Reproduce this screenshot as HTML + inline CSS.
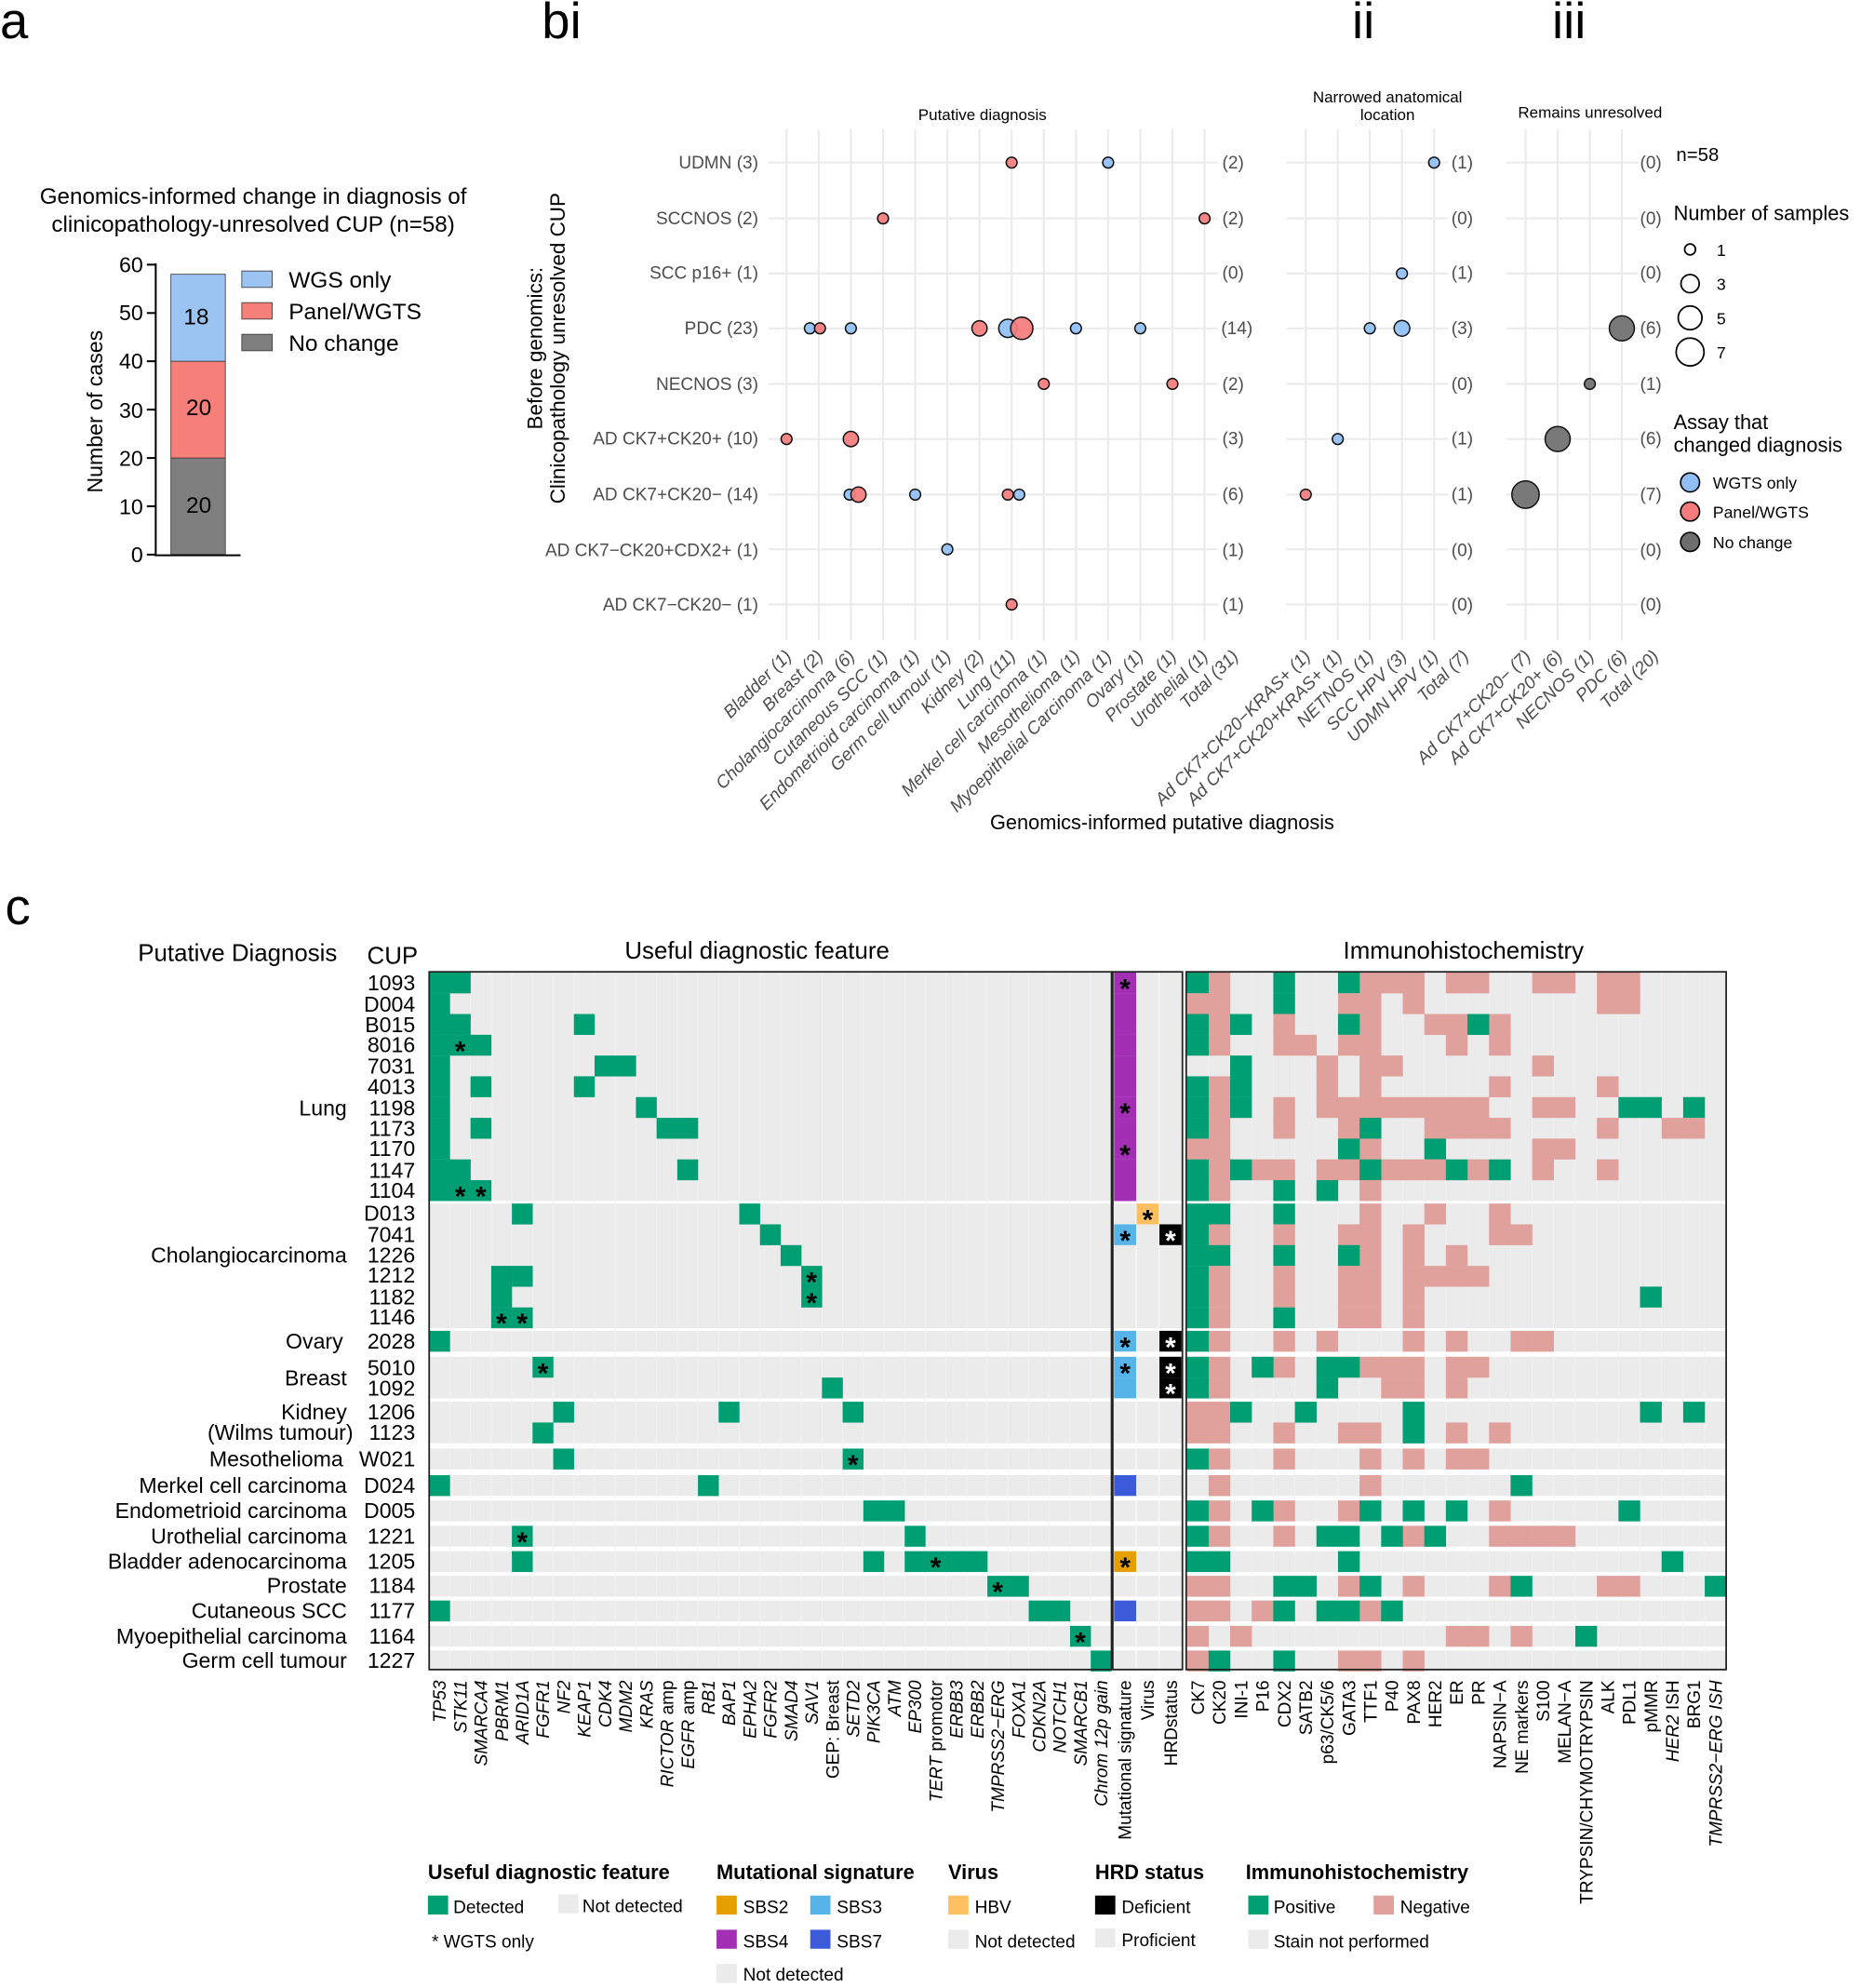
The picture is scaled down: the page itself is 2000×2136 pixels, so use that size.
<!DOCTYPE html>
<html><head><meta charset="utf-8">
<style>
html,body{margin:0;padding:0;background:#fff;}
svg{display:block;font-family:"Liberation Sans",Arial,sans-serif;}
.tk{font-size:14px;fill:#4d4d4d;}
.xl{font-size:14px;fill:#4d4d4d;font-style:italic;}
.cl{font-size:14px;fill:#000;}
.it{font-style:italic;}
</style></head><body>
<svg id="s" width="2000" height="2136" viewBox="0 0 1470 1570" preserveAspectRatio="none" xmlns="http://www.w3.org/2000/svg">
<text x="0" y="30" font-size="40">a</text>
<text x="428" y="30" font-size="40">bi</text>
<text x="1068" y="30" font-size="40">ii</text>
<text x="1226" y="30" font-size="40">iii</text>
<text x="4" y="730" font-size="40">c</text>

<text x="200" y="161" font-size="17.8" text-anchor="middle">Genomics-informed change in diagnosis of</text>
<text x="200" y="183" font-size="17.8" text-anchor="middle">clinicopathology-unresolved CUP (n=58)</text>
<rect x="135" y="361.7" width="43" height="76.3" fill="#7f7f7f" stroke="#333" stroke-width="0.6"/>
<rect x="135" y="285.3" width="43" height="76.4" fill="#f77f7a" stroke="#333" stroke-width="0.6"/>
<rect x="135" y="216.6" width="43" height="68.7" fill="#9cc4f2" stroke="#333" stroke-width="0.6"/>
<text x="157" y="405" font-size="18" text-anchor="middle">20</text>
<text x="157" y="328" font-size="18" text-anchor="middle">20</text>
<text x="155" y="256" font-size="18" text-anchor="middle">18</text>
<line x1="123" y1="208" x2="123" y2="439" stroke="#000" stroke-width="1.5"/>
<line x1="122" y1="438.5" x2="190" y2="438.5" stroke="#000" stroke-width="1.5"/>
<g stroke="#000" stroke-width="1.5">
<line x1="116" y1="438" x2="123" y2="438"/><line x1="116" y1="399.8" x2="123" y2="399.8"/><line x1="116" y1="361.7" x2="123" y2="361.7"/><line x1="116" y1="323.5" x2="123" y2="323.5"/><line x1="116" y1="285.3" x2="123" y2="285.3"/><line x1="116" y1="247.2" x2="123" y2="247.2"/><line x1="116" y1="209" x2="123" y2="209"/>
</g>
<g font-size="17" text-anchor="end">
<text x="113" y="444">0</text><text x="113" y="406">10</text><text x="113" y="368">20</text><text x="113" y="330">30</text><text x="113" y="291">40</text><text x="113" y="253">50</text><text x="113" y="215">60</text>
</g>
<text transform="rotate(-90 81 325)" x="81" y="325" font-size="17" text-anchor="middle">Number of cases</text>
<rect x="191" y="214" width="24" height="13" fill="#9cc4f2" stroke="#333" stroke-width="0.6"/>
<rect x="191" y="239" width="24" height="13" fill="#f77f7a" stroke="#333" stroke-width="0.6"/>
<rect x="191" y="264" width="24" height="13" fill="#7f7f7f" stroke="#333" stroke-width="0.6"/>
<g font-size="18"><text x="228" y="227">WGS only</text><text x="228" y="252">Panel/WGTS</text><text x="228" y="277">No change</text></g>

<g id="bgrid" stroke="#ebebeb" stroke-width="1.6"></g>
<text x="776" y="95" font-size="12.5" text-anchor="middle">Putative diagnosis</text>
<text x="1096" y="81" font-size="12.5" text-anchor="middle">Narrowed anatomical</text>
<text x="1096" y="95" font-size="12.5" text-anchor="middle">location</text>
<text x="1256" y="93" font-size="12.5" text-anchor="middle">Remains unresolved</text>
<text transform="rotate(-90 428 275)" x="428" y="275" font-size="16.5" text-anchor="middle">Before genomics:</text>
<text transform="rotate(-90 446 275)" x="446" y="275" font-size="16.5" text-anchor="middle">Clinicopathology unresolved CUP</text>
<g class="tk" text-anchor="end">
<text x="599" y="133">UDMN (3)</text>
<text x="599" y="177">SCCNOS (2)</text>
<text x="599" y="220">SCC p16+ (1)</text>
<text x="599" y="264">PDC (23)</text>
<text x="599" y="308">NECNOS (3)</text>
<text x="599" y="351">AD CK7+CK20+ (10)</text>
<text x="599" y="395">AD CK7+CK20− (14)</text>
<text x="599" y="439">AD CK7−CK20+CDX2+ (1)</text>
<text x="599" y="482">AD CK7−CK20− (1)</text>
</g>
<g class="tk" text-anchor="middle">
<text x="974" y="133">(2)</text><text x="974" y="177">(2)</text><text x="974" y="220">(0)</text><text x="977" y="264">(14)</text><text x="974" y="308">(2)</text><text x="974" y="351">(3)</text><text x="974" y="395">(6)</text><text x="974" y="439">(1)</text><text x="974" y="482">(1)</text>
<text x="1155" y="133">(1)</text><text x="1155" y="177">(0)</text><text x="1155" y="220">(1)</text><text x="1155" y="264">(3)</text><text x="1155" y="308">(0)</text><text x="1155" y="351">(1)</text><text x="1155" y="395">(1)</text><text x="1155" y="439">(0)</text><text x="1155" y="482">(0)</text>
<text x="1304" y="133">(0)</text><text x="1304" y="177">(0)</text><text x="1304" y="220">(0)</text><text x="1304" y="264">(6)</text><text x="1304" y="308">(1)</text><text x="1304" y="351">(6)</text><text x="1304" y="395">(7)</text><text x="1304" y="439">(0)</text><text x="1304" y="482">(0)</text>
</g>
<g id="bub" stroke="#111" stroke-width="1.1"></g>
<g class="xl" text-anchor="end">
<text transform="rotate(-45 626 519)" x="626" y="519">Bladder (1)</text>
<text transform="rotate(-45 651 519)" x="651" y="519">Breast (2)</text>
<text transform="rotate(-45 676 519)" x="676" y="519">Cholangiocarcinoma (6)</text>
<text transform="rotate(-45 702 519)" x="702" y="519">Cutaneous SCC (1)</text>
<text transform="rotate(-45 727 519)" x="727" y="519">Endometrioid carcinoma (1)</text>
<text transform="rotate(-45 752 519)" x="752" y="519">Germ cell tumour (1)</text>
<text transform="rotate(-45 778 519)" x="778" y="519">Kidney (2)</text>
<text transform="rotate(-45 803 519)" x="803" y="519">Lung (11)</text>
<text transform="rotate(-45 828 519)" x="828" y="519">Merkel cell carcinoma (1)</text>
<text transform="rotate(-45 854 519)" x="854" y="519">Mesothelioma (1)</text>
<text transform="rotate(-45 879 519)" x="879" y="519">Myoepithelial Carcinoma (1)</text>
<text transform="rotate(-45 904 519)" x="904" y="519">Ovary (1)</text>
<text transform="rotate(-45 930 519)" x="930" y="519">Prostate (1)</text>
<text transform="rotate(-45 955 519)" x="955" y="519">Urothelial (1)</text>
<text transform="rotate(-45 979 519)" x="979" y="519">Total (31)</text>
<text transform="rotate(-45 1036 519)" x="1036" y="519">Ad CK7+CK20−KRAS+ (1)</text>
<text transform="rotate(-45 1061 519)" x="1061" y="519">Ad CK7+CK20+KRAS+ (1)</text>
<text transform="rotate(-45 1086 519)" x="1086" y="519">NETNOS (1)</text>
<text transform="rotate(-45 1112 519)" x="1112" y="519">SCC HPV (3)</text>
<text transform="rotate(-45 1137 519)" x="1137" y="519">UDMN HPV (1)</text>
<text transform="rotate(-45 1161 519)" x="1161" y="519">Total (7)</text>
<text transform="rotate(-45 1210 519)" x="1210" y="519">Ad CK7+CK20− (7)</text>
<text transform="rotate(-45 1235 519)" x="1235" y="519">Ad CK7+CK20+ (6)</text>
<text transform="rotate(-45 1260 519)" x="1260" y="519">NECNOS (1)</text>
<text transform="rotate(-45 1286 519)" x="1286" y="519">PDC (6)</text>
<text transform="rotate(-45 1311 519)" x="1311" y="519">Total (20)</text>
</g>
<text x="918" y="655" font-size="16" text-anchor="middle">Genomics-informed putative diagnosis</text>
<text x="1324" y="127" font-size="15">n=58</text>
<text x="1322" y="174" font-size="16">Number of samples</text>
<g fill="#fff" stroke="#000" stroke-width="1.3">
<circle cx="1335" cy="197" r="4.3"/><circle cx="1335" cy="224" r="7.2"/><circle cx="1335" cy="251" r="9.4"/><circle cx="1335" cy="278" r="11"/>
</g>
<g font-size="13"><text x="1356" y="202">1</text><text x="1356" y="229">3</text><text x="1356" y="256">5</text><text x="1356" y="283">7</text></g>
<text x="1322" y="339" font-size="16">Assay that</text>
<text x="1322" y="357" font-size="16">changed diagnosis</text>
<g stroke="#000" stroke-width="1.2">
<circle cx="1335" cy="381" r="7.5" fill="#8fbff5"/><circle cx="1335" cy="404" r="7.5" fill="#f57c7c"/><circle cx="1335" cy="428" r="7.5" fill="#6e6e6e"/>
</g>
<g font-size="13"><text x="1353" y="386">WGTS only</text><text x="1353" y="409">Panel/WGTS</text><text x="1353" y="433">No change</text></g>

<text x="109" y="759" font-size="19">Putative Diagnosis</text>
<text x="290" y="761" font-size="19">CUP</text>
<text x="598" y="757" font-size="19" text-anchor="middle">Useful diagnostic feature</text>
<text x="1156" y="757" font-size="19" text-anchor="middle">Immunohistochemistry</text>
<g id="heat"></g>
<g font-size="17" text-anchor="end" id="cup">
<text x="328" y="782">1093</text><text x="328" y="799">D004</text><text x="328" y="815">B015</text><text x="328" y="831">8016</text><text x="328" y="848">7031</text><text x="328" y="864">4013</text><text x="328" y="881">1198</text><text x="328" y="897">1173</text><text x="328" y="913">1170</text><text x="328" y="930">1147</text><text x="328" y="946">1104</text>
<text x="328" y="964">D013</text><text x="328" y="981">7041</text><text x="328" y="997">1226</text><text x="328" y="1013">1212</text><text x="328" y="1030">1182</text><text x="328" y="1046">1146</text>
<text x="328" y="1065">2028</text><text x="328" y="1086">5010</text><text x="328" y="1102">1092</text><text x="328" y="1121">1206</text><text x="328" y="1137">1123</text><text x="328" y="1158">W021</text><text x="328" y="1179">D024</text><text x="328" y="1199">D005</text><text x="328" y="1219">1221</text><text x="328" y="1239">1205</text><text x="328" y="1258">1184</text><text x="328" y="1278">1177</text><text x="328" y="1298">1164</text><text x="328" y="1317">1227</text>
<text x="274" y="881">Lung</text>
<text x="274" y="997">Cholangiocarcinoma</text>
<text x="271" y="1065">Ovary</text>
<text x="274" y="1094">Breast</text>
<text x="274" y="1121">Kidney</text>
<text x="279" y="1137">(Wilms tumour)</text>
<text x="271" y="1158">Mesothelioma</text>
<text x="274" y="1179">Merkel cell carcinoma</text>
<text x="274" y="1199">Endometrioid carcinoma</text>
<text x="274" y="1219">Urothelial carcinoma</text>
<text x="274" y="1239">Bladder adenocarcinoma</text>
<text x="274" y="1258">Prostate</text>
<text x="274" y="1278">Cutaneous SCC</text>
<text x="274" y="1298">Myoepithelial carcinoma</text>
<text x="274" y="1317">Germ cell tumour</text>
</g>
<g class="cl" text-anchor="end">
<text class="it" transform="rotate(-90 352 1327)" x="352" y="1327">TP53</text>
<text class="it" transform="rotate(-90 368.5 1327)" x="368.5" y="1327">STK11</text>
<text class="it" transform="rotate(-90 384.8 1327)" x="384.8" y="1327">SMARCA4</text>
<text class="it" transform="rotate(-90 401.2 1327)" x="401.2" y="1327">PBRM1</text>
<text class="it" transform="rotate(-90 417.5 1327)" x="417.5" y="1327">ARID1A</text>
<text class="it" transform="rotate(-90 433.8 1327)" x="433.8" y="1327">FGFR1</text>
<text class="it" transform="rotate(-90 450.2 1327)" x="450.2" y="1327">NF2</text>
<text class="it" transform="rotate(-90 466.5 1327)" x="466.5" y="1327">KEAP1</text>
<text class="it" transform="rotate(-90 482.8 1327)" x="482.8" y="1327">CDK4</text>
<text class="it" transform="rotate(-90 499.2 1327)" x="499.2" y="1327">MDM2</text>
<text class="it" transform="rotate(-90 515.5 1327)" x="515.5" y="1327">KRAS</text>
<text transform="rotate(-90 531.8 1327)" x="531.8" y="1327"><tspan class="it">RICTOR</tspan> amp</text>
<text transform="rotate(-90 548.2 1327)" x="548.2" y="1327"><tspan class="it">EGFR</tspan> amp</text>
<text class="it" transform="rotate(-90 564.5 1327)" x="564.5" y="1327">RB1</text>
<text class="it" transform="rotate(-90 580.8 1327)" x="580.8" y="1327">BAP1</text>
<text class="it" transform="rotate(-90 597.2 1327)" x="597.2" y="1327">EPHA2</text>
<text class="it" transform="rotate(-90 613.5 1327)" x="613.5" y="1327">FGFR2</text>
<text class="it" transform="rotate(-90 629.8 1327)" x="629.8" y="1327">SMAD4</text>
<text class="it" transform="rotate(-90 646.1 1327)" x="646.1" y="1327">SAV1</text>
<text transform="rotate(-90 662.5 1327)" x="662.5" y="1327">GEP: Breast</text>
<text class="it" transform="rotate(-90 678.8 1327)" x="678.8" y="1327">SETD2</text>
<text class="it" transform="rotate(-90 695.1 1327)" x="695.1" y="1327">PIK3CA</text>
<text class="it" transform="rotate(-90 711.5 1327)" x="711.5" y="1327">ATM</text>
<text class="it" transform="rotate(-90 727.8 1327)" x="727.8" y="1327">EP300</text>
<text transform="rotate(-90 744.1 1327)" x="744.1" y="1327"><tspan class="it">TERT</tspan> promotor</text>
<text class="it" transform="rotate(-90 760.5 1327)" x="760.5" y="1327">ERBB3</text>
<text class="it" transform="rotate(-90 776.8 1327)" x="776.8" y="1327">ERBB2</text>
<text class="it" transform="rotate(-90 793.1 1327)" x="793.1" y="1327">TMPRSS2−ERG</text>
<text class="it" transform="rotate(-90 809.5 1327)" x="809.5" y="1327">FOXA1</text>
<text class="it" transform="rotate(-90 825.8 1327)" x="825.8" y="1327">CDKN2A</text>
<text class="it" transform="rotate(-90 842.1 1327)" x="842.1" y="1327">NOTCH1</text>
<text class="it" transform="rotate(-90 858.5 1327)" x="858.5" y="1327">SMARCB1</text>
<text class="it" transform="rotate(-90 874.8 1327)" x="874.8" y="1327">Chrom 12p gain</text>
<text transform="rotate(-90 893.5 1327)" x="893.5" y="1327">Mutational signature</text>
<text transform="rotate(-90 911.5 1327)" x="911.5" y="1327">Virus</text>
<text transform="rotate(-90 929.7 1327)" x="929.7" y="1327">HRDstatus</text>
<text transform="rotate(-90 951.1 1327)" x="951.1" y="1327">CK7</text>
<text transform="rotate(-90 968.1 1327)" x="968.1" y="1327">CK20</text>
<text transform="rotate(-90 985.2 1327)" x="985.2" y="1327">INI-1</text>
<text transform="rotate(-90 1002.2 1327)" x="1002.2" y="1327">P16</text>
<text transform="rotate(-90 1019.3 1327)" x="1019.3" y="1327">CDX2</text>
<text transform="rotate(-90 1036.3 1327)" x="1036.3" y="1327">SATB2</text>
<text transform="rotate(-90 1053.3 1327)" x="1053.3" y="1327">p63/CK5/6</text>
<text transform="rotate(-90 1070.4 1327)" x="1070.4" y="1327">GATA3</text>
<text transform="rotate(-90 1087.4 1327)" x="1087.4" y="1327">TTF1</text>
<text transform="rotate(-90 1104.5 1327)" x="1104.5" y="1327">P40</text>
<text transform="rotate(-90 1121.5 1327)" x="1121.5" y="1327">PAX8</text>
<text transform="rotate(-90 1138.5 1327)" x="1138.5" y="1327">HER2</text>
<text transform="rotate(-90 1155.6 1327)" x="1155.6" y="1327">ER</text>
<text transform="rotate(-90 1172.6 1327)" x="1172.6" y="1327">PR</text>
<text transform="rotate(-90 1189.7 1327)" x="1189.7" y="1327">NAPSIN−A</text>
<text transform="rotate(-90 1206.7 1327)" x="1206.7" y="1327">NE markers</text>
<text transform="rotate(-90 1223.7 1327)" x="1223.7" y="1327">S100</text>
<text transform="rotate(-90 1240.8 1327)" x="1240.8" y="1327">MELAN−A</text>
<text transform="rotate(-90 1257.8 1327)" x="1257.8" y="1327">TRYPSIN/CHYMOTRYPSIN</text>
<text transform="rotate(-90 1274.9 1327)" x="1274.9" y="1327">ALK</text>
<text transform="rotate(-90 1291.9 1327)" x="1291.9" y="1327">PDL1</text>
<text transform="rotate(-90 1308.9 1327)" x="1308.9" y="1327">pMMR</text>
<text transform="rotate(-90 1326 1327)" x="1326" y="1327"><tspan class="it">HER2</tspan> ISH</text>
<text transform="rotate(-90 1343 1327)" x="1343" y="1327">BRG1</text>
<text class="it" transform="rotate(-90 1360.1 1327)" x="1360.1" y="1327">TMPRSS2−ERG ISH</text>
</g>
<g font-size="16" font-weight="bold">
<text x="338" y="1484">Useful diagnostic feature</text>
<text x="566" y="1484">Mutational signature</text>
<text x="749" y="1484">Virus</text>
<text x="865" y="1484">HRD status</text>
<text x="984" y="1484">Immunohistochemistry</text>
</g>
<rect x="338" y="1497" width="16" height="15" fill="#009e73"/>
<rect x="441" y="1496" width="16" height="15" fill="#ebebeb"/>
<rect x="566" y="1497" width="16" height="15" fill="#e69f00"/>
<rect x="640" y="1497" width="16" height="15" fill="#56b4e9"/>
<rect x="566" y="1524" width="16" height="15" fill="#a22fb4"/>
<rect x="640" y="1524" width="16" height="15" fill="#3b5bdb"/>
<rect x="566" y="1551" width="16" height="15" fill="#ebebeb"/>
<rect x="749" y="1497" width="16" height="15" fill="#fdbf5f"/>
<rect x="749" y="1524" width="16" height="15" fill="#ebebeb"/>
<rect x="865" y="1497" width="16" height="15" fill="#000"/>
<rect x="865" y="1523" width="16" height="15" fill="#ebebeb"/>
<rect x="986" y="1497" width="16" height="15" fill="#009e73"/>
<rect x="1085" y="1497" width="16" height="15" fill="#e0a09b"/>
<rect x="986" y="1524" width="16" height="15" fill="#ebebeb"/>
<g font-size="14">
<text x="358" y="1511">Detected</text>
<text x="460" y="1510">Not detected</text>
<text x="341" y="1538">* WGTS only</text>
<text x="587" y="1511">SBS2</text><text x="661" y="1511">SBS3</text>
<text x="587" y="1538">SBS4</text><text x="661" y="1538">SBS7</text>
<text x="587" y="1564">Not detected</text>
<text x="770" y="1511">HBV</text><text x="770" y="1538">Not detected</text>
<text x="886" y="1511">Deficient</text><text x="886" y="1537">Proficient</text>
<text x="1006" y="1511">Positive</text><text x="1106" y="1511">Negative</text>
<text x="1006" y="1538">Stain not performed</text>
</g>
</svg>
<script>
(function(){
var NS="http://www.w3.org/2000/svg";
function el(p,t,a){var e=document.createElementNS(NS,t);for(var k in a)e.setAttribute(k,a[k]);p.appendChild(e);return e;}
var g=document.getElementById('bgrid');
var rows=[128.4,172.5,216,259.3,303.2,346.7,390.6,433.8,477.4];
var colsB=[],i;for(i=0;i<14;i++)colsB.push(621.3+25.4*i);
var colsI=[1031.4,1056.7,1082,1107.4,1132.8];
var colsJ=[1205,1230.4,1255.8,1281.1];
function grid(cols,x1,x2){cols.forEach(function(x){el(g,'line',{x1:x,y1:102,x2:x,y2:506});});rows.forEach(function(y){el(g,'line',{x1:x1,y1:y,x2:x2,y2:y});});}
grid(colsB,607,962);grid(colsI,1016,1144);grid(colsJ,1190,1294);
var b=document.getElementById('bub');
var B='#8fbff5',R='#f57c7c',G='#6e6e6e';
var bubs=[
[colsB[7],0,R,4.3],[colsB[10],0,B,4.3],
[colsB[3],1,R,4.3],[colsB[13],1,R,4.3],
[colsB[1]-7,3,B,4.3],[colsB[1]+1,3,R,4.3],[colsB[2],3,B,4.3],[colsB[6],3,R,6],[colsB[7]-3,3,B,7.2],[colsB[7]+8,3,R,8.8],[colsB[9],3,B,4.3],[colsB[11],3,B,4.3],
[colsB[8],4,R,4.3],[colsB[12],4,R,4.3],
[colsB[0],5,R,4.3],[colsB[2],5,R,6],
[colsB[2]-1,6,B,4.3],[colsB[2]+6,6,R,6],[colsB[4],6,B,4.3],[colsB[7]-3,6,R,4.3],[colsB[7]+6,6,B,4.3],
[colsB[5],7,B,4.3],[colsB[7],8,R,4.3],
[colsI[4],0,B,4.3],[colsI[3],2,B,4.3],[colsI[2],3,B,4.3],[colsI[3],3,B,6.2],[colsI[1],5,B,4.3],[colsI[0],6,R,4.3],
[colsJ[3],3,G,9.9],[colsJ[2],4,G,4.3],[colsJ[1],5,G,9.9],[colsJ[0],6,G,10.8]];
bubs.forEach(function(d){el(b,'circle',{cx:d[0],cy:rows[d[1]],r:d[3],fill:d[2],'fill-opacity':0.92});});
var h=document.getElementById('heat');
var starts=[],grp=[[768,11],[950.5,6],[1051,1],[1071.5,2],[1107,2],[1144,1],[1165,1],[1185,1],[1205,1],[1225,1],[1244.5,1],[1264,1],[1284,1],[1303.5,1]];
var RH=16.4;
grp.forEach(function(q){for(var j=0;j<q[1];j++)starts.push(q[0]+j*RH);
 el(h,'rect',{x:339,y:q[0],width:539,height:q[1]*RH,fill:'#ebebeb'});
 el(h,'rect',{x:880,y:q[0],width:53.5,height:q[1]*RH,fill:'#ebebeb'});
 el(h,'rect',{x:937.6,y:q[0],width:426,height:q[1]*RH,fill:'#ebebeb'});
});
for(i=1;i<33;i++)el(h,'line',{x1:339+16.33*i,y1:768,x2:339+16.33*i,y2:1319,stroke:'#f3f3f3','stroke-width':0.6});
for(i=1;i<25;i++)el(h,'line',{x1:937.6+17.04*i,y1:768,x2:937.6+17.04*i,y2:1319,stroke:'#f3f3f3','stroke-width':0.6});
[897.5,915.5].forEach(function(x){el(h,'line',{x1:x,y1:768,x2:x,y2:1319,stroke:'#fafafa','stroke-width':1});});
var GR='#009e73',PK='#e0a09b';
function star(x,y,c){var t=el(h,'text',{x:x,y:y+12,'font-size':22,'font-weight':'bold','text-anchor':'middle',fill:c||'#000'});t.textContent='*';}
var L=[[[0,1]],[[0]],[[0,1,7]],[[0,1,2],[1]],[[0,8,9]],[[0,2,7]],[[0,10]],[[0,2,11,12]],[[0]],[[0,1,12]],[[0,1,2],[1,2]],
[[4,15]],[[16]],[[17]],[[3,4,18],[18]],[[3,18],[18]],[[3,4],[3,4]],
[[0]],[[5],[5]],[[19]],[[6,14,20]],[[5]],[[6,20],[20]],[[0,13]],[[21,22]],[[4,23],[4]],[[4,21,23,24,25,26],[24]],[[27,28],[27]],[[0,29,30]],[[31],[31]],[[32]]];
L.forEach(function(d,r){var y=starts[r];d[0].forEach(function(c){el(h,'rect',{x:339+16.33*c,y:y,width:16.5,height:RH+0.1,fill:GR});});
 (d[1]||[]).forEach(function(c){star(339+16.33*c+8.17,y+RH/2);});});
var IG=[[0,4,7],[4],[0,2,7,13],[0],[2],[0,2],[0,2,20,21,23],[0,8],[7,11],[0,2,8,12,14],[0,4,6],
[0,1,4],[0],[0,1,4,7],[0],[0,21],[0,4],[0],[0,3,6,7],[0,6],[2,5,10,21,23],[10],[0],[15],[0,3,8,10,12,20],[0,6,7,9,11],[0,1,7,22],[4,5,8,15,24],[4,6,7,9],[18],[1,4]];
var IN=[[1,8,9,10,12,13,16,17,19,20],[0,1,7,8,10,19,20],[1,4,8,11,12,14],[1,4,5,7,8,12,14],[6,8,9,16],[1,6,8,14,19],[1,4,6,7,8,9,10,11,12,13,16,17],[1,4,7,11,12,13,14,19,22,23],[0,1,8,16,17],[1,3,4,6,7,9,10,11,13,16,19],[1,8],
[8,11,14],[1,4,7,8,10,14,15],[8,10,12],[1,4,7,8,10,11,12,13],[1,4,7,8,10],[1,7,8,10],[1,4,6,10,12,15,16],[1,4,8,9,10,12,13],[1,9,10,12],[0,1],[0,1,4,7,8,12,14],[1,4,8,10,12,13],[1,8],[1,4,7,14],[1,4,10,14,15,16,17],[],[0,1,7,10,14,19,20],[0,1,3,8],[0,2,12,13,15],[0,7,8,10]];
for(var r=0;r<31;r++){var y=starts[r];
 IN[r].forEach(function(c){el(h,'rect',{x:937.6+17.04*c,y:y,width:17.2,height:RH+0.1,fill:PK});});
 IG[r].forEach(function(c){el(h,'rect',{x:937.6+17.04*c,y:y,width:17.2,height:RH+0.1,fill:GR});});}
for(r=0;r<11;r++)el(h,'rect',{x:880,y:starts[r],width:17.5,height:RH+0.1,fill:'#a22fb4'});
[0,6,8].forEach(function(r){star(888.7,starts[r]+RH/2);});
function mc(r,col,fill,st,sc){var x=[880,897.8,915.8][col];el(h,'rect',{x:x,y:starts[r],width:17.5,height:RH,fill:fill});if(st)star(x+8.8,starts[r]+RH/2,sc);}
mc(11,1,'#fdbf5f',1);mc(12,0,'#56b4e9',1);mc(12,2,'#000',1,'#fff');
mc(17,0,'#56b4e9',1);mc(17,2,'#000',1,'#fff');mc(18,0,'#56b4e9',1);mc(18,2,'#000',1,'#fff');
mc(19,0,'#56b4e9',0);mc(19,2,'#000',1,'#fff');mc(23,0,'#3b5bdb',0);mc(26,0,'#e69f00',1);mc(28,0,'#3b5bdb',0);
el(h,'rect',{x:339,y:767.5,width:539,height:551,fill:'none',stroke:'#222','stroke-width':1.3});
el(h,'rect',{x:879,y:767.5,width:55,height:551,fill:'none',stroke:'#222','stroke-width':1.3});
el(h,'rect',{x:937,y:767.5,width:426.5,height:551,fill:'none',stroke:'#222','stroke-width':1.3});
})();
</script>
</body></html>
